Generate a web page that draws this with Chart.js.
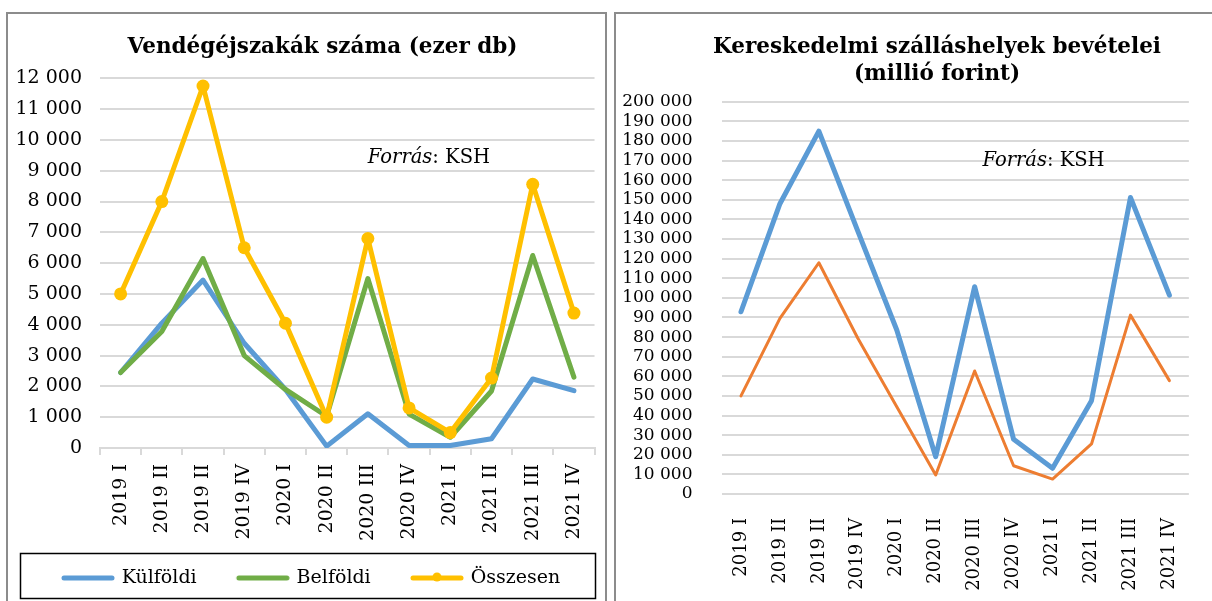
<!DOCTYPE html>
<html>
<head>
<meta charset="utf-8">
<script src="https://cdn.jsdelivr.net/npm/chart.js@4/dist/chart.umd.min.js"></script>
<style>
    html, body { margin: 0; padding: 0; background: #fff; width: 1212px; height: 601px; overflow: hidden; }
    .frame { position: absolute; border: 2px solid #8c8c8c; box-sizing: border-box; }
    #leftFrame { left: 6px; top: 12px; width: 601px; height: 640px; }
    #rightFrame { left: 614px; top: 12px; width: 660px; height: 640px; }
    canvas { position: absolute; }
    #left { left: 8px; top: 14px; }
    #right { left: 616px; top: 14px; }
</style>
</head>
<body>
<div class="frame" id="leftFrame"></div>
<div class="frame" id="rightFrame"></div>
<canvas id="left" width="598" height="587"></canvas>
<canvas id="right" width="591" height="587"></canvas>
<script>
const categories = ["2019 I", "2019 II", "2019 II", "2019 IV", "2020 I", "2020 II", "2020 III", "2020 IV", "2021 I", "2021 II", "2021 III", "2021 IV"];

// Vendégéjszakák (ezer db)
const kulfoldi = [2450, 4050, 5450, 3400, 1900, 60, 1110, 80, 80, 300, 2240, 1860];
const belfoldi = [2450, 3780, 6150, 3000, 1900, 1030, 5500, 1100, 350, 1850, 6250, 2300];
const osszesen = [5000, 8000, 11750, 6500, 4050, 1000, 6800, 1300, 500, 2270, 8560, 4380];

// Bevételek (millió forint)
const bevetelOsszes = [92900, 148000, 185000, 134000, 83600, 19000, 105700, 27900, 13100, 47600, 151200, 101400];
const bevetelSzallas = [50000, 89500, 117900, 79400, 44500, 9700, 62700, 14400, 7600, 25500, 91200, 57800];

const leftTicks = { max: 12000, step: 1000 };
const rightTicks = { max: 200000, step: 10000 };

const colors = {
    blue: "#5B9BD5",
    green: "#70AD47",
    yellow: "#FFC000",
    orange: "#ED7D31",
    grid: "#D9D9D9",
};

const serif = '"DejaVu Serif", serif';

function formatNumber(value) {
    return String(value).replace(/\B(?=(\d{3})+(?!\d))/g, " ");
}

function legendIcon(color, marker) {
    const c = document.createElement("canvas");
    c.width = 70;
    c.height = 16;
    const g = c.getContext("2d");
    g.strokeStyle = color;
    g.lineWidth = 5;
    g.lineCap = "round";
    g.beginPath();
    g.moveTo(19, 8);
    g.lineTo(67, 8);
    g.stroke();
    if (marker) {
        g.fillStyle = color;
        g.beginPath();
        g.arc(43, 7, 4.5, 0, Math.PI * 2);
        g.fill();
    }
    return c;
}

// title drawn at a given centre, so it can sit off the plot centre like the original
const chartTitle = {
    id: "chartTitle",
    afterDraw(chart, args, opts) {
        const { ctx } = chart;
        ctx.save();
        ctx.fillStyle = "#000";
        ctx.textAlign = "center";
        ctx.textBaseline = "middle";
        ctx.font = "bold " + opts.size + "px " + serif;
        opts.lines.forEach((line, i) => {
            ctx.fillText(line, opts.x, opts.y + i * opts.lineHeight);
        });
        ctx.restore();
    },
};

const sourceNote = {
    id: "sourceNote",
    afterDatasetsDraw(chart, args, opts) {
        const { ctx } = chart;
        const px = chart.scales.x.getPixelForValue(opts.index);
        const py = chart.scales.y.getPixelForValue(opts.value);
        ctx.save();
        ctx.fillStyle = "#000";
        ctx.textAlign = "left";
        ctx.textBaseline = "middle";
        ctx.font = "italic 19.5px " + serif;
        ctx.fillText("Forrás", px, py);
        const w = ctx.measureText("Forrás").width;
        ctx.font = "19.5px " + serif;
        ctx.fillText(": KSH", px + w, py);
        ctx.restore();
    },
};

const legendFrame = {
    id: "legendFrame",
    afterDraw(chart, args, opts) {
        const { ctx } = chart;
        ctx.save();
        ctx.strokeStyle = "#000";
        ctx.lineWidth = 1.5;
        ctx.strokeRect(opts.left, opts.top, opts.width, opts.height);
        ctx.restore();
    },
};

function lineDataset(label, data, color, width, order, withPoints) {
    return {
        label: label,
        data: data,
        borderColor: color,
        backgroundColor: color,
        borderWidth: width,
        borderJoinStyle: "round",
        borderCapStyle: "round",
        tension: 0,
        order: order,
        pointRadius: withPoints ? 6.5 : 0,
        pointBorderWidth: 0,
        pointBackgroundColor: color,
        pointHoverRadius: withPoints ? 6.5 : 0,
    };
}

const leftIcons = [legendIcon(colors.blue, false), legendIcon(colors.green, false), legendIcon(colors.yellow, true)];

new Chart(document.getElementById("left"), {
    type: "line",
    data: {
        labels: categories,
        datasets: [
            lineDataset("Külföldi", kulfoldi, colors.blue, 5, 2, false),
            lineDataset("Belföldi", belfoldi, colors.green, 5, 1, false),
            lineDataset("Összesen", osszesen, colors.yellow, 5, 0, true),
        ],
    },
    options: {
        responsive: false,
        animation: false,
        layout: { padding: { left: 0, right: 6, top: 64.3, bottom: 3.5 } },
        scales: {
            x: {
                offset: true,
                afterFit: (scale) => { scale.height = 94.5; },
                grid: { offset: true, drawOnChartArea: false, drawTicks: true, tickLength: 7, color: colors.grid, lineWidth: 2 },
                border: { display: true, color: colors.grid, width: 2 },
                ticks: { maxRotation: 90, minRotation: 90, autoSkip: false, padding: 9, color: "#000", font: { family: serif, size: 19 } },
            },
            y: {
                min: 0,
                max: leftTicks.max,
                afterFit: (scale) => { scale.width = 92; },
                grid: { color: colors.grid, lineWidth: 2, drawTicks: false },
                border: { display: false },
                ticks: { stepSize: leftTicks.step, autoSkip: false, padding: 18, color: "#000", font: { family: serif, size: 19 }, callback: (v) => formatNumber(v) },
            },
        },
        plugins: {
            title: { display: false },
            chartTitle: { lines: ["Vendégéjszakák száma (ezer db)"], x: 314.5, y: 33, size: 21.5, lineHeight: 27 },
            legend: {
                position: "bottom",
                align: "center",
                labels: {
                    usePointStyle: true,
                    pointStyleWidth: 64.5,
                    padding: 26,
                    color: "#000",
                    font: { family: serif, size: 19 },
                    sort: (a, b) => a.datasetIndex - b.datasetIndex,
                    generateLabels(chart) {
                        const items = Chart.defaults.plugins.legend.labels.generateLabels(chart);
                        items.forEach((item) => { item.pointStyle = leftIcons[item.datasetIndex]; });
                        return items;
                    },
                },
            },
            legendFrame: { left: 12.5, top: 539.5, width: 575, height: 45 },
            tooltip: { enabled: false },
            sourceNote: { index: 6, value: 9400 },
        },
    },
    plugins: [sourceNote, chartTitle, legendFrame],
});

new Chart(document.getElementById("right"), {
    type: "line",
    data: {
        labels: categories,
        datasets: [
            lineDataset("Bevétel összesen", bevetelOsszes, colors.blue, 5, 1, false),
            lineDataset("Szállásdíj-bevétel", bevetelSzallas, colors.orange, 3, 0, false),
        ],
    },
    options: {
        responsive: false,
        animation: false,
        layout: { padding: { left: 0, right: 0, top: 87.7, bottom: 0 } },
        scales: {
            x: {
                offset: true,
                afterFit: (scale) => { scale.height = 107; },
                grid: { display: false },
                border: { display: false },
                ticks: { maxRotation: 90, minRotation: 90, autoSkip: false, padding: 16, color: "#000", font: { family: serif, size: 18 } },
            },
            y: {
                min: 0,
                max: rightTicks.max,
                afterFit: (scale) => { scale.width = 105.5; },
                grid: { color: colors.grid, lineWidth: 2, drawTicks: false },
                border: { display: false },
                ticks: { stepSize: rightTicks.step, autoSkip: false, padding: 29, color: "#000", font: { family: serif, size: 17 }, callback: (v) => formatNumber(v) },
            },
        },
        plugins: {
            title: { display: false },
            chartTitle: { lines: ["Kereskedelmi szálláshelyek bevételei", "(millió forint)"], x: 321, y: 33, size: 21.5, lineHeight: 27 },
            legend: { display: false },
            tooltip: { enabled: false },
            sourceNote: { index: 6.2, value: 170000 },
        },
    },
    plugins: [sourceNote, chartTitle],
});
</script>
</body>
</html>
